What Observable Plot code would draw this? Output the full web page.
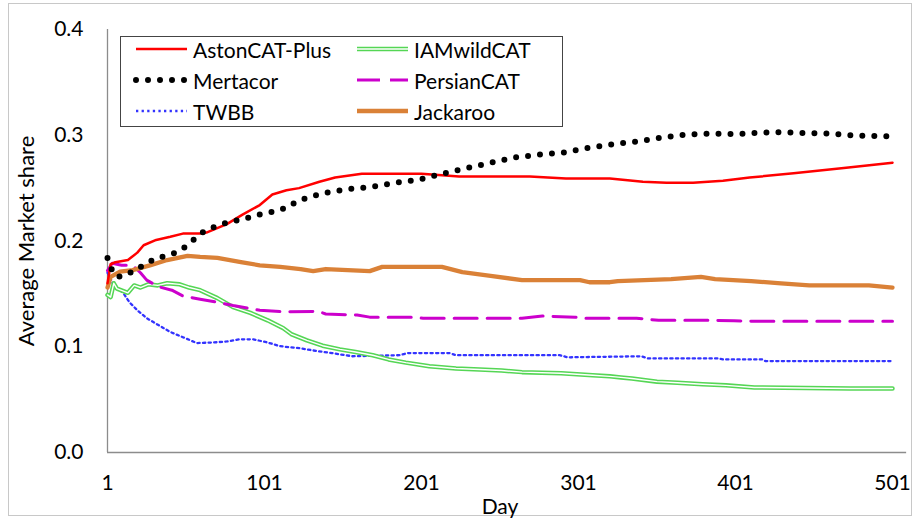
<!DOCTYPE html>
<html>
<head>
<meta charset="utf-8">
<script src="https://cdn.jsdelivr.net/npm/d3@7"></script>
<script src="https://cdn.jsdelivr.net/npm/@observablehq/plot@0.6"></script>
<style>
  html, body { margin: 0; padding: 0; background: #fff; }
  #wrap { position: relative; width: 917px; height: 523px; font-family: Lato, "Open Sans", sans-serif; }
  #border { position: absolute; left: 8px; top: 3px; width: 904px; height: 513px; border: 1px solid #c8c8c8; box-sizing: border-box; }
  #chart { position: absolute; left: 0; top: 0; }
  #legend { position: absolute; left: 120px; top: 36px; width: 443px; height: 91px; border: 1.5px solid #444; box-sizing: border-box; background: #fff; }
  .entry { position: absolute; display: flex; align-items: center; font-size: 21px; color: #000; line-height: 1; }
  .entry svg { margin-right: 3px; }
</style>
</head>
<body>
<div id="wrap">
  <div id="border"></div>
  <div id="chart"></div>
  <div id="legend"></div>
</div>
<script>
// ---- Data ----
const seriesNames = ["AstonCAT-Plus", "IAMwildCAT", "Mertacor", "PersianCAT", "TWBB", "Jackaroo"];
const xTicks = [1, 101, 201, 301, 401, 501];
const yTicks = [0, 0.1, 0.2, 0.3, 0.4];
const xLabel = "Day";
const yLabel = "Average Market share";

// [day, average market share]
const astonCatPlus = [[1,0.160],[3,0.178],[6,0.180],[14,0.182],[20,0.189],[24,0.196],[32,0.201],[41,0.204],[49,0.207],[60,0.207],[64,0.208],[77,0.216],[87,0.225],[98,0.234],[106,0.244],[115,0.248],[123,0.250],[136,0.256],[146,0.260],[163,0.2635],[201,0.2635],[225,0.261],[270,0.261],[293,0.259],[321,0.259],[342,0.256],[357,0.255],[374,0.255],[393,0.257],[410,0.260],[438,0.264],[470,0.269],[501,0.274]];
const iamWildCat = [[1,0.149],[3,0.147],[5,0.160],[7,0.155],[14,0.151],[18,0.158],[22,0.156],[27,0.159],[33,0.158],[39,0.160],[47,0.159],[53,0.156],[60,0.1535],[71,0.146],[81,0.1375],[92,0.132],[103,0.125],[113,0.1175],[118,0.112],[128,0.106],[138,0.101],[149,0.0975],[159,0.095],[170,0.092],[180,0.088],[191,0.085],[206,0.0815],[223,0.0795],[238,0.0785],[252,0.0775],[265,0.076],[290,0.075],[310,0.073],[321,0.072],[328,0.071],[335,0.070],[351,0.067],[364,0.066],[380,0.0645],[395,0.0635],[413,0.0615],[474,0.0605],[501,0.0605]];
const mertacor = [[1,0.184],[4,0.172],[7,0.166],[12,0.167],[25,0.178],[32,0.184],[39,0.186],[46,0.190],[52,0.196],[58,0.204],[64,0.211],[71,0.214],[78,0.218],[86,0.220],[93,0.223],[100,0.226],[108,0.228],[116,0.232],[122,0.238],[138,0.245],[153,0.249],[168,0.251],[184,0.255],[199,0.258],[214,0.2635],[230,0.269],[245,0.274],[260,0.279],[275,0.2815],[291,0.2835],[307,0.288],[320,0.291],[338,0.294],[353,0.2975],[368,0.3005],[384,0.3015],[400,0.301],[416,0.3025],[431,0.303],[447,0.302],[462,0.3015],[478,0.2995],[501,0.299]];
const persianCat = [[1,0.172],[4,0.179],[10,0.177],[17,0.177],[22,0.170],[26,0.163],[33,0.157],[42,0.1535],[49,0.148],[60,0.145],[71,0.142],[81,0.139],[98,0.1345],[113,0.133],[135,0.1335],[140,0.131],[160,0.130],[168,0.128],[193,0.128],[202,0.127],[265,0.127],[278,0.129],[299,0.128],[303,0.127],[338,0.127],[352,0.125],[388,0.125],[400,0.1245],[420,0.124],[501,0.124]];
const twbb = [[1,0.170],[5,0.158],[7,0.156],[11,0.151],[15,0.142],[20,0.1345],[26,0.127],[34,0.120],[41,0.114],[49,0.109],[58,0.1035],[68,0.104],[77,0.105],[85,0.107],[94,0.107],[103,0.104],[111,0.1005],[124,0.0985],[132,0.0965],[144,0.094],[157,0.091],[187,0.092],[192,0.094],[219,0.094],[223,0.092],[289,0.092],[294,0.090],[341,0.091],[345,0.089],[390,0.089],[393,0.088],[418,0.088],[420,0.0865],[501,0.0865]];
const jackaroo = [[1,0.156],[3,0.166],[9,0.171],[17,0.1725],[28,0.177],[39,0.182],[52,0.186],[60,0.185],[71,0.184],[86,0.180],[98,0.177],[111,0.1755],[124,0.1735],[132,0.1715],[140,0.1735],[168,0.1715],[176,0.1755],[214,0.1755],[227,0.1705],[245,0.167],[265,0.163],[302,0.163],[308,0.161],[321,0.161],[326,0.162],[360,0.164],[379,0.166],[388,0.164],[411,0.162],[430,0.160],[448,0.158],[486,0.158],[501,0.156]];

// ---- Styles ----
const styles = {
  "AstonCAT-Plus": [{stroke: "#ff0000", strokeWidth: 2.5}],
  "IAMwildCAT": [{stroke: "#55d655", strokeWidth: 4.5}, {stroke: "#ffffff", strokeWidth: 1.4}],
  "Mertacor": [{stroke: "#000000", strokeWidth: 6, strokeDasharray: "0 12", strokeLinecap: "round"}],
  "PersianCAT": [{stroke: "#cc00cc", strokeWidth: 3, strokeDasharray: "23 10"}],
  "TWBB": [{stroke: "#3333ff", strokeWidth: 2.3, strokeDasharray: "2.3 3.3"}],
  "Jackaroo": [{stroke: "#da8137", strokeWidth: 4.3}]
};
const dataByName = {
  "AstonCAT-Plus": astonCatPlus, "IAMwildCAT": iamWildCat, "Mertacor": mertacor,
  "PersianCAT": persianCat, "TWBB": twbb, "Jackaroo": jackaroo
};
const drawOrder = ["TWBB", "IAMwildCAT", "PersianCAT", "Jackaroo", "AstonCAT-Plus", "Mertacor"];

const lineMarks = [];
for (const name of drawOrder) {
  for (const s of styles[name]) {
    lineMarks.push(Plot.line(dataByName[name], {x: d => d[0], y: d => d[1], ...s, strokeLinejoin: "round"}));
  }
}

const fmt = d3.format(".1f");
const chart = Plot.plot({
  width: 917,
  height: 523,
  marginLeft: 107,
  marginRight: 25,
  marginTop: 29,
  marginBottom: 71,
  style: {fontFamily: "Lato, 'Open Sans', sans-serif", fontSize: "21px", color: "#000", background: "transparent", overflow: "visible"},
  x: {domain: [1, 501]},
  y: {domain: [0, 0.4]},
  marks: [
    Plot.axisY({ticks: yTicks, tickFormat: fmt, tickSize: 0, tickPadding: 24, fontSize: 21, label: null}),
    Plot.axisX({ticks: xTicks, tickSize: 0, tickPadding: 23, fontSize: 21, label: null}),
    Plot.text([yLabel], {frameAnchor: "left", textAnchor: "middle", lineAnchor: "middle", rotate: -90, dx: -81, fontSize: 22, fill: "#000"}),
    Plot.text([xLabel], {frameAnchor: "bottom", textAnchor: "middle", lineAnchor: "middle", dy: 55, fontSize: 21, fill: "#000"}),
    Plot.ruleX([1], {y1: 0, y2: 0.4, stroke: "#8c8c8c", strokeWidth: 1.3}),
    Plot.ruleY([0], {x1: 1, x2: 510, stroke: "#8c8c8c", strokeWidth: 1.3}),
    ...lineMarks
  ]
});
document.getElementById("chart").appendChild(chart);

// ---- Legend ----
const legendOrder = ["AstonCAT-Plus", "IAMwildCAT", "Mertacor", "PersianCAT", "TWBB", "Jackaroo"];
const legend = document.getElementById("legend");
legendOrder.forEach((name, i) => {
  const col = i % 2, row = Math.floor(i / 2);
  const e = document.createElement("div");
  e.className = "entry";
  e.style.left = (col === 0 ? 12 : 233) + "px";
  e.style.top = (row * 31 + 1) + "px";
  e.style.height = "22px";
  const svgNS = "http://www.w3.org/2000/svg";
  const sw = document.createElementNS(svgNS, "svg");
  sw.setAttribute("width", 57); sw.setAttribute("height", 12);
  for (const s of styles[name]) {
    const l = document.createElementNS(svgNS, "line");
    l.setAttribute("x1", 3); l.setAttribute("x2", 54); l.setAttribute("y1", 6); l.setAttribute("y2", 6);
    l.setAttribute("stroke", s.stroke); l.setAttribute("stroke-width", s.strokeWidth);
    if (s.strokeDasharray) l.setAttribute("stroke-dasharray", s.strokeDasharray);
    if (s.strokeLinecap) l.setAttribute("stroke-linecap", s.strokeLinecap);
    sw.appendChild(l);
  }
  e.appendChild(sw);
  const t = document.createElement("span");
  t.textContent = name;
  e.appendChild(t);
  legend.appendChild(e);
});
</script>
</body>
</html>
